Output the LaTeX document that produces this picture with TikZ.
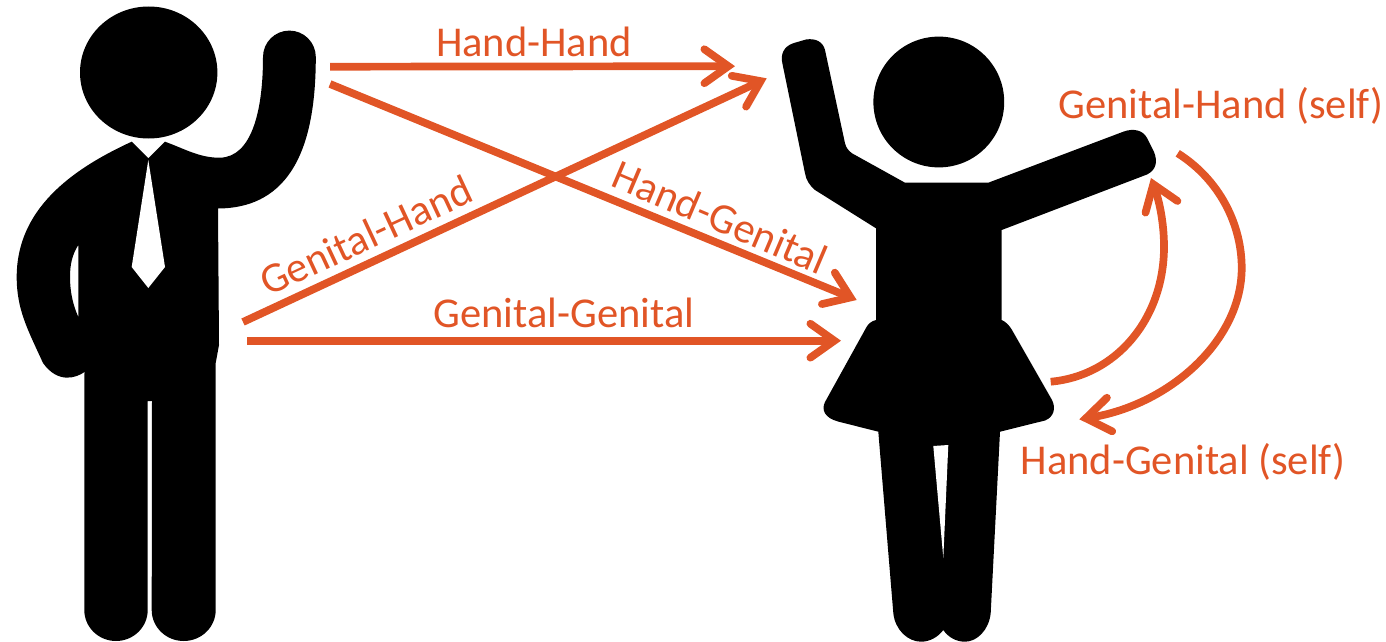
\documentclass[tikz,border=0pt]{standalone}
\usepackage{fontspec}
\setmainfont{Carlito}
\usetikzlibrary{arrows.meta}
\definecolor{arrowc}{HTML}{E15526}
\tikzset{
  x=1pt,y=-1pt,
  figure/.style={fill=black,draw=none},
  hole/.style={fill=white,draw=none},
  link/.style={draw=arrowc,line width=7.7pt,-{Straight Barb[length=24pt,width=34pt,line width=7.7pt,line cap=round,line join=miter]}},
  lab/.style={text=arrowc,font=\fontsize{42.5}{44}\selectfont,inner sep=0pt},
}
\begin{document}
\begin{tikzpicture}
\useasboundingbox (0,0) rectangle (1386,642);
% man
\fill[figure] (148.7,72.5) ellipse [x radius=68.7,y radius=66];
\fill[figure,even odd rule] (131.7,141.7) -- (148.3,158.3) -- (165,141.7)
  .. controls (185,149) and (200,158) .. (220,157.7)
  .. controls (252,157) and (263,110) .. (263,57)
  arc [start angle=180,end angle=360,radius=26.4]
  .. controls (315.7,130) and (300,208) .. (218,208.5)
  -- (219,345) -- (215.7,363) -- (215.7,610)
  arc [start angle=0,end angle=180,x radius=32,y radius=31]
  -- (152,401) -- (147.7,401) -- (147.7,610)
  arc [start angle=0,end angle=180,x radius=31.7,y radius=31]
  -- (84.5,372)
  .. controls (76,378) and (58,384) .. (43,363)
  .. controls (28,330) and (16.7,310) .. (16.7,277)
  .. controls (16.7,210) and (70,170) .. (131.7,141.7) -- cycle
  (78.3,245) .. controls (72,255) and (70,265) .. (70,277) .. controls (70,292) and (73,305) .. (78.3,317) -- cycle;
\fill[hole] (148.3,160) -- (165,267) -- (148.3,288) -- (131.7,267) -- cycle;
% woman
\fill[figure] (938.8,102) circle [radius=65.4];
\fill[figure] (905,182.7) -- (988.3,182.7) -- (1123.3,131.7)
  .. controls (1133,128) and (1143,130) .. (1147,138)
  -- (1154,152) .. controls (1158,162) and (1156,170) .. (1147,174.5)
  -- (1001.7,230) -- (1001.7,320)
  .. controls (1006,322) and (1009,325) .. (1012,330)
  -- (1052,400) .. controls (1056,408) and (1054,417) .. (1045,420.5)
  -- (1000,431.7) -- (990.7,613)
  .. controls (989,630) and (977,641.7) .. (965,641.7)
  .. controls (956,641.7) and (948,637) .. (943.3,630)
  .. controls (938,637) and (930,641.7) .. (921,641.7)
  .. controls (908,641.7) and (895,630) .. (893.3,613)
  -- (878.3,431.7) -- (838,421.5)
  .. controls (825,418) and (821,410) .. (825,402)
  -- (866.7,326.7) .. controls (869,323) and (872,321) .. (876,320)
  -- (876,228.3) -- (815,190)
  .. controls (810,186) and (806,180) .. (805,173.3)
  -- (782.5,64) .. controls (780,54) and (784,46) .. (794,43)
  -- (806,39.5) .. controls (816,38) and (823,42) .. (825,50)
  -- (845,143.3) .. controls (846,148) and (849,151) .. (852,153.3)
  -- cycle;
\fill[hole] (933.3,446) -- (948.3,445) -- (943.3,558) -- cycle;
% connector end points
\coordinate (hh1) at (330,66.7);   \coordinate (hh2) at (735,66.2);
\coordinate (gh1) at (243,322);    \coordinate (gh2) at (766.7,78.3);
\coordinate (hg1) at (330,84);     \coordinate (hg2) at (856.7,300);
\coordinate (gg1) at (247,340.7);  \coordinate (gg2) at (841,340.7);
\coordinate (sa1) at (1050.7,381.7); \coordinate (sa2) at (1151,178);
\coordinate (sb1) at (1177.7,153.3); \coordinate (sb2) at (1079.3,419.3);
\draw[link] (hh1) -- (hh2);
\draw[link] (gh1) -- (gh2);
\draw[link] (hg1) -- (hg2);
\draw[link] (gg1) -- (gg2);
\draw[link] (sa1) .. controls (1115,376) and (1164,320) .. (1164,246.7)
  .. controls (1164,222) and (1159,200) .. (sa2);
\draw[link] (sb1) .. controls (1220,180) and (1241.7,225) .. (1241.7,268)
  .. controls (1241.7,340) and (1170,405) .. (sb2);
% labels
\node[lab] (l1) at (534,41.5) {Hand-Hand};
\node[lab] (l2) at (564,313) {Genital-Genital};
\node[lab,rotate=25] (l3) at (366,235.5) {Genital-Hand};
\node[lab,rotate=-23] (l4) at (720,217) {Hand-Genital};
\node[lab] (l5) at (1221,106) {Genital-Hand (self)};
\node[lab] (l6) at (1183,462) {Hand-Genital (self)};
\end{tikzpicture}
\end{document}
